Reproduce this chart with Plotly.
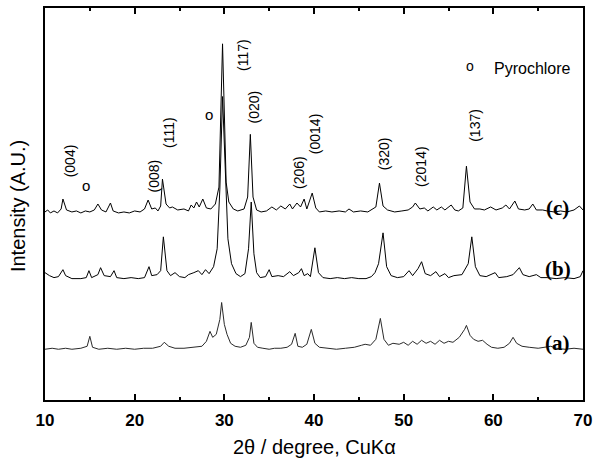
import plotly.graph_objects as go

# ---- data (2theta in degrees, intensity in arbitrary units) ----
c_x = [10.0,10.3,10.6,11.0,11.4,11.8,12.0,12.4,13.0,13.5,14.0,14.5,15.0,15.5,15.9,16.3,16.8,17.3,17.6,18.2,18.8,19.4,20.0,20.6,21.1,21.5,21.9,22.3,22.6,22.9,23.1,23.5,23.9,24.2,24.8,25.5,26.0,26.3,26.6,26.9,27.2,27.6,28.0,28.5,29.0,29.4,29.8,30.2,30.5,31.0,31.5,32.2,32.6,32.9,33.2,33.6,34.1,34.7,35.3,35.8,36.3,36.8,37.3,37.6,38.1,38.5,38.9,39.2,39.8,40.2,40.6,41.3,42.0,42.8,43.5,43.9,44.4,45.2,46.0,46.9,47.3,47.7,48.2,49.0,49.8,50.5,51.0,51.3,51.8,52.3,52.7,53.3,53.7,54.2,54.6,55.3,55.7,56.1,56.6,57.0,57.4,57.9,58.5,59.0,59.7,60.3,61.0,61.4,61.8,62.4,62.8,63.5,64.0,64.4,64.8,65.5,66.0,66.8,67.5,68.2,69.0,69.6,70.0]
c_y = [189,191,188,190,188,192,202,191,189,190,188,190,189,191,197,191,189,198,190,188,189,188,190,189,192,201,192,193,190,195,222,197,193,194,191,192,190,196,193,199,194,202,193,192,197,214,358,219,199,192,190,192,204,267,204,191,189,190,194,191,195,192,197,192,198,194,202,192,208,193,189,190,189,190,189,192,189,190,189,194,218,195,191,189,190,191,194,198,192,193,190,194,191,194,191,196,191,190,193,235,199,192,192,191,194,191,193,196,192,200,192,191,192,197,191,191,190,189,190,189,191,195,191]

b_x = [10.0,10.5,11.0,11.5,12.0,12.3,13.0,14.0,14.6,14.9,15.2,15.9,16.2,16.6,17.3,17.7,18.0,18.8,19.6,20.4,21.1,21.6,21.9,22.5,22.9,23.2,23.6,24.0,24.5,25.0,25.6,26.0,26.6,27.1,27.5,27.9,28.3,28.8,29.2,29.5,29.8,30.1,30.4,30.8,31.3,31.8,32.3,32.7,33.0,33.3,33.6,34.0,34.6,35.0,35.3,36.0,36.6,37.3,37.7,38.3,38.6,38.9,39.3,39.6,40.1,40.5,41.0,41.8,42.6,43.4,44.2,45.0,45.8,46.4,46.8,47.2,47.7,48.1,48.6,49.3,50.0,50.6,51.0,51.6,52.0,52.4,53.0,53.6,54.0,54.6,55.0,55.6,56.5,57.2,57.6,58.0,58.5,59.2,60.2,60.6,61.5,62.2,62.9,63.3,64.0,64.8,65.3,66.0,67.0,68.0,69.0,69.7,70.0]
b_y = [128,125,123,124,131,125,122,122,123,130,123,126,133,125,124,130,123,122,123,122,123,134,125,126,130,164,130,125,128,124,123,126,128,130,126,131,127,134,152,212,305,242,162,137,127,124,127,152,199,147,128,123,124,131,124,125,124,129,125,128,132,125,127,124,153,128,123,122,123,122,123,122,122,124,128,137,168,134,125,123,124,130,125,132,139,127,125,129,124,127,123,125,126,137,164,134,125,124,128,123,124,126,133,126,124,126,123,123,122,123,122,124,130]

a_x = [10.0,10.8,11.5,12.3,13.0,14.0,14.7,15.0,15.3,16.0,17.0,18.0,19.0,20.0,21.0,22.0,22.9,23.3,23.8,24.5,25.5,26.5,27.5,28.0,28.4,28.7,29.1,29.5,29.7,30.0,30.3,30.7,31.2,31.8,32.4,32.8,33.0,33.3,33.7,34.3,35.0,35.6,36.3,37.0,37.5,37.9,38.2,38.7,39.2,39.7,40.1,40.6,41.5,42.5,43.5,44.5,45.3,45.7,46.3,46.9,47.4,47.8,48.3,48.8,49.5,50.0,50.5,51.0,51.5,52.0,52.5,53.0,53.5,54.0,54.5,55.0,55.5,56.2,56.8,57.0,57.4,57.8,58.3,58.8,59.3,59.8,60.5,61.2,61.8,62.2,62.6,63.2,64.0,65.0,66.4,67.0,68.0,69.0,70.0]
a_y = [51,52,51,52,51,52,54,64,53,51,52,51,52,51,52,52,54,58,54,52,52,53,54,59,69,63,66,81,98,76,66,57,54,53,55,63,78,57,53,52,51,52,52,53,56,67,54,53,56,71,57,53,52,51,52,53,55,56,55,61,82,61,55,57,56,58,55,59,56,60,57,59,56,60,57,59,58,63,71,75,65,61,59,60,56,53,52,53,57,63,57,54,53,52,54,52,51,52,51]

peak_labels = ["(004)", "(008)", "(111)", "(117)", "(020)", "(206)", "(0014)", "(320)", "(2014)", "(137)"]
peak_label_x = [12.8, 22.2, 23.9, 32.0, 33.3, 38.3, 40.2, 47.8, 51.9, 58.0]
peak_label_y = [240, 225, 269, 347, 295, 229, 267, 248, 234, 276]

pyro_x = [14.6, 28.3]
pyro_y = [216, 287]

sample_labels = ["(c)", "(b)", "(a)"]
sample_label_y = [193, 132, 57]

fig = go.Figure()
for xs, ys, col in [(c_x, c_y, "black"), (b_x, b_y, "black"), (a_x, a_y, "#2a2a2a")]:
    fig.add_trace(go.Scatter(x=xs, y=ys, mode="lines",
                             line=dict(color=col, width=1), showlegend=False,
                             hoverinfo="skip"))

ann = []
for t, x, y in zip(peak_labels, peak_label_x, peak_label_y):
    ann.append(dict(x=x, y=y, xref="x", yref="y", text=t, showarrow=False, textangle=-90,
                    font=dict(family="Liberation Sans, Arial", size=14, color="black")))
for x, y in zip(pyro_x, pyro_y):
    ann.append(dict(x=x, y=y, xref="x", yref="y", text="o", showarrow=False,
                    font=dict(family="Liberation Sans, Arial", size=15, color="black")))
for t, y in zip(sample_labels, sample_label_y):
    ann.append(dict(x=67.2, y=y, xref="x", yref="y", text=t, showarrow=False,
                    font=dict(family="Liberation Serif, Times New Roman", size=21, color="black",
                              weight="bold")))
ann.append(dict(x=57.4, y=336, xref="x", yref="y", text="o", showarrow=False,
                font=dict(family="Liberation Sans, Arial", size=14, color="black")))
ann.append(dict(x=59.8, y=333, xref="x", yref="y", text="Pyrochlore", showarrow=False,
                xanchor="left", font=dict(family="Liberation Sans, Arial", size=16, color="black")))
ann.append(dict(x=0.5, y=-0.12, xref="paper", yref="paper", text="2θ / degree, CuKα",
                showarrow=False, yanchor="middle",
                font=dict(family="Liberation Sans, Arial", size=20, color="black")))
ann.append(dict(x=-0.05, y=0.495, xref="paper", yref="paper", text="Intensity (A.U.)",
                showarrow=False, textangle=-90, xanchor="center", yanchor="middle",
                font=dict(family="Liberation Sans, Arial", size=20, color="black")))

fig.update_layout(
    width=598, height=463,
    margin=dict(l=45, r=13, t=6, b=63),
    paper_bgcolor="white", plot_bgcolor="white",
    annotations=ann,
    xaxis=dict(range=[10, 70], tick0=10, dtick=10, ticks="inside", ticklen=6, tickwidth=2,
               tickcolor="black", showline=True, linecolor="black", linewidth=2,
               mirror="ticks", showgrid=False, zeroline=False,
               minor=dict(dtick=5, ticks="inside", ticklen=3, tickwidth=2, tickcolor="black"),
               tickfont=dict(family="Liberation Sans, Arial", size=17, color="black", weight="bold"),
               ticklabelstandoff=4),
    yaxis=dict(range=[0, 394], showticklabels=False, ticks="", showline=True,
               linecolor="black", linewidth=2, mirror=True, showgrid=False, zeroline=False),
)

fig.write_html("out.html", config={"displayModeBar": False},
               post_script="document.body.style.margin='0';")
